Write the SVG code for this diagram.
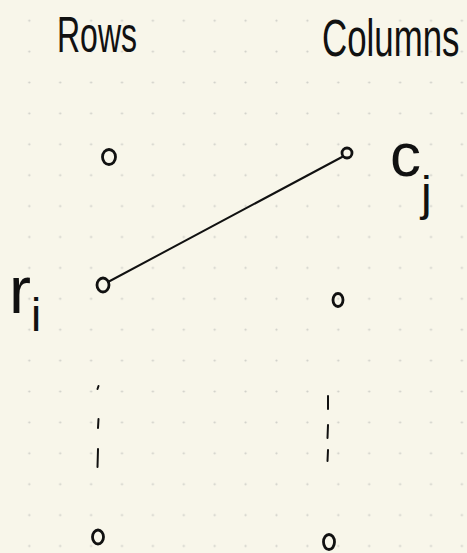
<svg xmlns="http://www.w3.org/2000/svg" width="467" height="553" viewBox="0 0 467 553">
  <style>
    .hand { font-family: "Liberation Sans", "DejaVu Sans", sans-serif; fill: #111; }
    .node { fill: none; stroke: #111; stroke-width: 2.8; }
    .edge { fill: none; stroke: #111; stroke-width: 2; stroke-linecap: round; }
    .tick { fill: none; stroke: #111; stroke-width: 2; stroke-linecap: round; }
  </style>
  <defs>
    <pattern id="grid" patternUnits="userSpaceOnUse" x="13.85" y="5.25" width="30.9" height="30.9">
      <circle cx="15.45" cy="15.45" r="1.1" fill="#cfcfc8"/>
    </pattern>
  </defs>
  <rect width="467" height="553" fill="#f8f6ea"/>
  <rect width="467" height="553" fill="url(#grid)"/>

  <g id="headers">
    <text class="hand" transform="translate(57,52) scale(0.64,1)" font-size="50">Rows</text>
    <text class="hand" transform="translate(322,56) scale(0.67,1)" font-size="52">Columns</text>
  </g>

  <g id="connectors">
    <line class="edge" x1="108" y1="282" x2="342" y2="157"/>
  </g>

  <g id="row-top"><ellipse class="node" cx="109" cy="157" rx="6.5" ry="7.5"/></g>
  <g id="row-i">
    <ellipse class="node" cx="103" cy="285" rx="6" ry="7"/>
    <text class="hand" x="9" y="313" font-size="66">r<tspan font-size="46" dy="18">i</tspan></text>
  </g>
  <g id="row-bottom"><ellipse class="node" cx="98" cy="537" rx="5.5" ry="7"/></g>

  <g id="col-j">
    <ellipse class="node" cx="347" cy="153" rx="5" ry="5"/>
    <text class="hand" x="390" y="176" font-size="62">c<tspan font-size="48" dy="34">j</tspan></text>
  </g>
  <g id="col-2"><ellipse class="node" cx="338" cy="300" rx="5" ry="6.5"/></g>
  <g id="col-bottom"><ellipse class="node" cx="329" cy="542" rx="5.5" ry="7.5"/></g>

  <g id="ellipsis-rows">
    <line class="tick" x1="98.5" y1="386" x2="97.5" y2="389"/>
    <line class="tick" x1="98.5" y1="419" x2="98" y2="428"/>
    <line class="tick" x1="98" y1="449" x2="97.5" y2="467"/>
  </g>
  <g id="ellipsis-cols">
    <line class="tick" x1="328" y1="396" x2="328" y2="409"/>
    <line class="tick" x1="328" y1="425" x2="327.5" y2="438"/>
    <line class="tick" x1="328" y1="450" x2="327.5" y2="461"/>
  </g>
</svg>
